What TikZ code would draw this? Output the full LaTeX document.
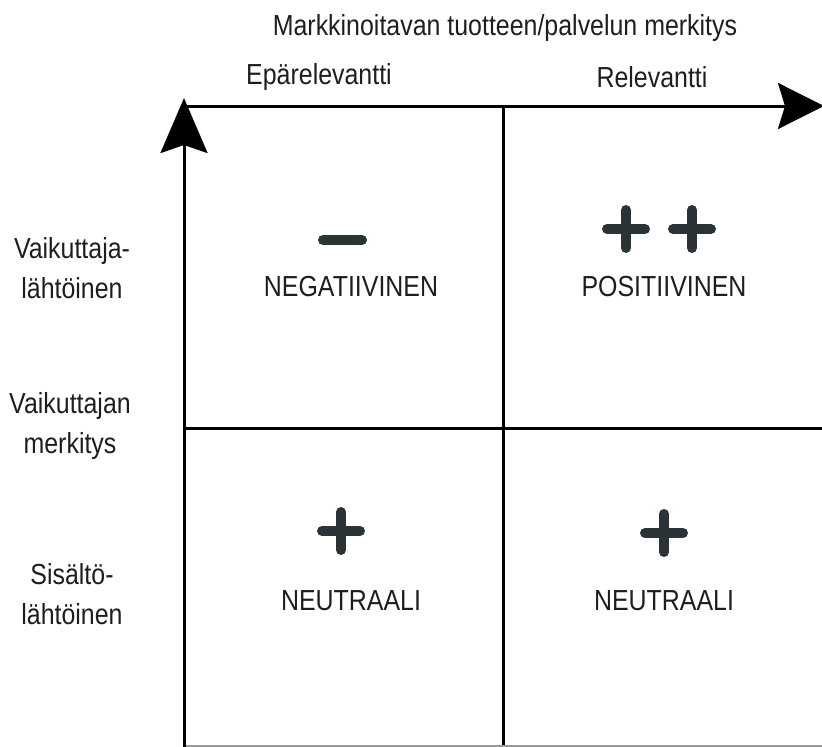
\documentclass[tikz,border=0pt]{standalone}
\usepackage{fontspec}
\setmainfont{Liberation Sans}[FakeStretch=0.86]
\usetikzlibrary{arrows.meta}
\definecolor{symcol}{HTML}{2C3337}
\definecolor{txtcol}{HTML}{1E1E1E}
\tikzset{
  axis/.style={line width=3pt, black},
  grid/.style={line width=3pt, black},
  lbl/.style={text=txtcol, font=\fontsize{29}{40}\selectfont, inner sep=0pt, align=center},
  sym/.style={line width=10pt, line cap=round, symcol},
  bigtip/.style={-{Stealth[length=55pt,width=47pt,inset=8pt]}}
}
\newcommand{\plussign}[1]{\draw[sym] ($(#1)+(-19,0)$) -- ($(#1)+(19,0)$); \draw[sym] ($(#1)+(0,-19)$) -- ($(#1)+(0,19)$);}
\usetikzlibrary{calc}
\begin{document}
\begin{tikzpicture}[x=1pt,y=-1pt]
\useasboundingbox (0,0) rectangle (822,747);
% coordinates
\coordinate (O) at (184,747);
\coordinate (Ytip) at (184,98);
\coordinate (Xstart) at (183,106);
\coordinate (Xtip) at (824,106);
\coordinate (Mtop) at (503,106);
\coordinate (Mbot) at (503,747);
\coordinate (Hl) at (183,428);
\coordinate (Hr) at (822,428);
\coordinate (Bl) at (183,746);
\coordinate (Br) at (822,746);
% lines
\draw[grid] (Mtop) -- (Mbot);
\draw[grid] (Hl) -- (Hr);
\draw[line width=2pt, black!40] (Bl) -- (Br);
\draw[axis, -{Stealth[length=46pt,width=46pt,inset=7pt]}] (Xstart) -- (Xtip);
\draw[axis, bigtip] (O) -- (Ytip);
% texts
\node[lbl] (title) at (505,28) {Markkinoitavan tuotteen/palvelun merkitys};
\node[lbl] (irr) at (319,77) {Epärelevantti};
\node[lbl] (rel) at (652,77) {Relevantti};
\node[lbl] (vl) at (72,268) {Vaikuttaja-\\lähtöinen};
\node[lbl] (vm) at (70,426) {Vaikuttajan\\merkitys};
\node[lbl] (sl) at (72,594) {Sisältö-\\lähtöinen};
\node[lbl] (neg) at (351,287) {NEGATIIVINEN};
\node[lbl] (pos) at (664,287) {POSITIIVINEN};
\node[lbl] (neu1) at (351,601) {NEUTRAALI};
\node[lbl] (neu2) at (664,601) {NEUTRAALI};
% symbols
\coordinate (minus) at (342.5,240);
\draw[sym] ($(minus)+(-19.5,0)$) -- ($(minus)+(19.5,0)$);
\coordinate (p1) at (626,229);
\coordinate (p2) at (692,229);
\coordinate (p3) at (341,531);
\coordinate (p4) at (664,533);
\plussign{p1}
\plussign{p2}
\plussign{p3}
\plussign{p4}
\end{tikzpicture}
\end{document}
